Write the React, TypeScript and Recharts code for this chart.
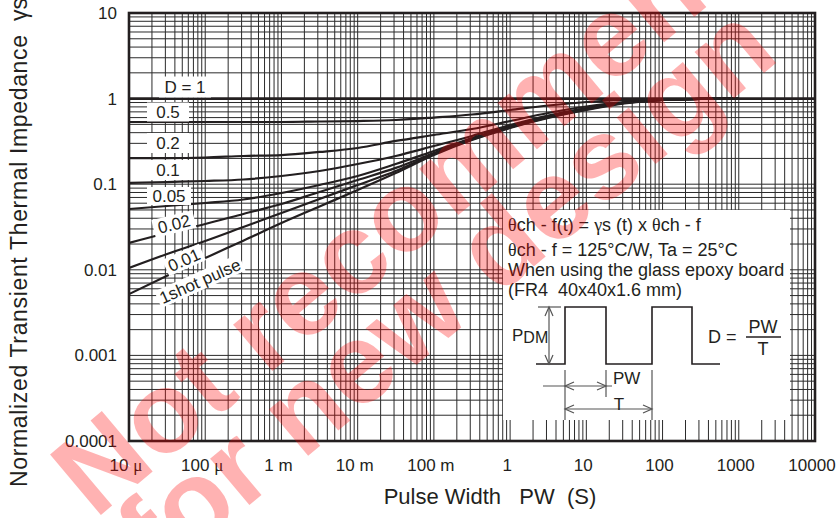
import React from 'react';
import { LineChart, Line, XAxis, YAxis, CartesianGrid } from 'recharts';

// ---------- data ----------
const pulseWidth = [1e-5, 3.16e-5, 1e-4, 3.16e-4, 1e-3, 3.16e-3, 1e-2, 3.16e-2, 0.1, 0.316, 1, 3.16, 10, 31.6, 100, 316, 1000];
const zD05 = [0.533, 0.533, 0.533, 0.533, 0.533, 0.54, 0.547, 0.562, 0.601, 0.652, 0.736, 0.831, 0.913, 0.963, 0.976, 0.99, 1.0];
const zD02 = [0.202, 0.202, 0.205, 0.2135, 0.219, 0.238, 0.265, 0.32, 0.376, 0.441, 0.547, 0.679, 0.809, 0.913, 0.963, 0.99, 1.0];
const zD01 = [0.1033, 0.106, 0.109, 0.1135, 0.1247, 0.1426, 0.172, 0.2135, 0.279, 0.366, 0.491, 0.635, 0.777, 0.9, 0.963, 0.99, 1.0];
const zD005 = [0.0513, 0.0556, 0.0603, 0.0663, 0.0789, 0.0979, 0.1247, 0.172, 0.244, 0.347, 0.472, 0.618, 0.766, 0.9, 0.963, 0.99, 1.0];
const zD002 = [0.0206, 0.0269, 0.0343, 0.0449, 0.0587, 0.0811, 0.112, 0.155, 0.231, 0.337, 0.466, 0.61, 0.756, 0.888, 0.963, 0.99, 1.0];
const zD001 = [0.0105, 0.0153, 0.0217, 0.0316, 0.0461, 0.0672, 0.0979, 0.1426, 0.225, 0.333, 0.46, 0.601, 0.746, 0.888, 0.963, 0.99, 1.0];
const zSingle = [0.0052, 0.0085, 0.0137, 0.0219, 0.0352, 0.0549, 0.0855, 0.135, 0.219, 0.328, 0.453, 0.593, 0.736, 0.877, 0.963, 0.99, 1.0];
const dOnePw = [1e-5, 1e4];
const dOneZ = [1, 1];

const xDecades = [1e-5, 1e-4, 1e-3, 1e-2, 1e-1, 1, 10, 100, 1000, 10000];
const xTickLabels = ['10 μ', '100 μ', '1 m', '10 m', '100 m', '1', '10', '100', '1000', '10000'];
const yDecades = [1e-4, 1e-3, 1e-2, 1e-1, 1, 10];
const yTickLabels = ['0.0001', '0.001', '0.01', '0.1', '1', '10'];

const seriesKeys = ['d05', 'd02', 'd01', 'd005', 'd002', 'd001', 'single'];
const seriesValues = [zD05, zD02, zD01, zD005, zD002, zD001, zSingle];

// ---------- derived tables ----------
const rows = pulseWidth.map((pw, i) => {
  const r: any = { pw };
  seriesKeys.forEach((k, j) => (r[k] = seriesValues[j][i]));
  return r;
});
const dOneRows = dOnePw.map((pw, i) => ({ pw, z: dOneZ[i] }));

function logGrid(decades: number[]) {
  const out: number[] = [];
  for (let i = 0; i < decades.length - 1; i++) {
    for (let m = 1; m <= 9; m++) out.push(Number((m * decades[i]).toPrecision(6)));
  }
  out.push(decades[decades.length - 1]);
  return out;
}
const xGridTicks = logGrid(xDecades);
const yGridTicks = logGrid(yDecades);

const decadeIndex = (v: number, decades: number[]) =>
  decades.findIndex((d) => Math.abs(Math.log10(d) - Math.log10(v)) < 1e-6);

// ---------- styles ----------
const W = 837;
const H = 518;
const INK = '#231f20';
const SANS = '"Liberation Sans", Arial, Helvetica, sans-serif';
const SERIF = '"Liberation Serif", "Times New Roman", serif';
const M = { top: 13, right: 22, bottom: 47, left: 69 };
const YW = 60;
const XH = 30;
const PL = M.left + YW;
const PT = M.top;
const PR = W - M.right;
const PB = H - M.bottom - XH;

const XTick = (props: any) => {
  const { x, payload } = props;
  const idx = decadeIndex(payload.value, xDecades);
  if (idx < 0) return <g />;
  const lab = xTickLabels[idx];
  const parts = lab.split('μ');
  return (
    <text x={x - 3} y={PB + 30} textAnchor="middle" fontSize={17} fill={INK} fontFamily={SANS}>
      {parts[0]}
      {parts.length > 1 ? <tspan fontFamily={SERIF}>μ</tspan> : null}
    </text>
  );
};

const YTick = (props: any) => {
  const { y, payload } = props;
  const idx = decadeIndex(payload.value, yDecades);
  if (idx < 0) return <g />;
  return (
    <text x={PL - 12} y={y + 6} textAnchor="end" fontSize={17} fill={INK} fontFamily={SANS}>
      {yTickLabels[idx]}
    </text>
  );
};

const Tag = ({ cx, cy, w, h, angle = 0, children }: any) => (
  <g transform={`translate(${cx},${cy}) rotate(${angle})`}>
    <rect x={-w / 2} y={-h / 2} width={w} height={h} fill="#fff" />
    <text x={0} y={6} textAnchor="middle" fontSize={17} fill={INK} fontFamily={SANS}>
      {children}
    </text>
  </g>
);

const Arrow = ({ x, y, dir }: any) => {
  const s = 9;
  const a = 4;
  let pts = '';
  if (dir === 'left') pts = `${x + s},${y - a} ${x},${y} ${x + s},${y + a}`;
  if (dir === 'right') pts = `${x - s},${y - a} ${x},${y} ${x - s},${y + a}`;
  if (dir === 'up') pts = `${x - a},${y + s} ${x},${y} ${x + a},${y + s}`;
  if (dir === 'down') pts = `${x - a},${y - s} ${x},${y} ${x + a},${y - s}`;
  return <polyline points={pts} fill="none" stroke="#555" strokeWidth={1.2} />;
};

export default function App() {
  return (
    <div style={{ position: 'absolute', left: 0, top: 0, width: W, height: H, background: '#fff' }}>
      <LineChart width={W} height={H} data={rows} margin={M}>
        <CartesianGrid stroke="#2b2b2b" strokeWidth={1} />
        <XAxis
          dataKey="pw"
          type="number"
          scale="log"
          domain={[1e-5, 1e4]}
          ticks={xGridTicks}
          interval={0}
          allowDataOverflow
          tick={<XTick />}
          tickLine={false}
          axisLine={false}
          height={XH}
        />
        <YAxis
          type="number"
          scale="log"
          domain={[1e-4, 10]}
          ticks={yGridTicks}
          interval={0}
          allowDataOverflow
          tick={<YTick />}
          tickLine={false}
          axisLine={false}
          width={YW}
        />
        {seriesKeys.map((k) => (
          <Line key={k} dataKey={k} type="monotone" stroke={INK} strokeWidth={2.2} dot={false} isAnimationActive={false} />
        ))}
        <Line data={dOneRows} dataKey="z" type="linear" stroke={INK} strokeWidth={2.6} dot={false} isAnimationActive={false} />
      </LineChart>

      <svg width={W} height={H} style={{ position: 'absolute', left: 0, top: 0, pointerEvents: 'none' }} fontFamily={SANS}>
        {/* inset box */}
        <rect x={503} y={210} width={287} height={210} fill="#fff" />
        <g fill={INK} fontSize={18}>
          <text x={508} y={231}>
            <tspan fontFamily={SERIF}>θ</tspan>ch - f(t) = <tspan fontFamily={SERIF}>γ</tspan>s (t) x <tspan fontFamily={SERIF}>θ</tspan>ch - f
          </text>
          <text x={508} y={256}>
            <tspan fontFamily={SERIF}>θ</tspan>ch - f = 125°C/W, Ta = 25°C
          </text>
          <text x={508} y={276}>When using the glass epoxy board</text>
          <text x={508} y={296} style={{ whiteSpace: 'pre' }}>(FR4  40x40x1.6 mm)</text>
        </g>
        {/* pulse train */}
        <polyline
          points="536,364 565,364 565,307 606,307 606,364 652,364 652,307 692,307 692,364 720,364"
          fill="none"
          stroke={INK}
          strokeWidth={1.6}
        />
        <line x1={538} y1={307} x2={561} y2={307} stroke="#555" strokeWidth={1.2} />
        <line x1={549} y1={307} x2={549} y2={364} stroke="#555" strokeWidth={1.2} />
        <Arrow x={549} y={307} dir="up" />
        <Arrow x={549} y={364} dir="down" />
        <text x={512} y={341} fontSize={17} fill={INK}>
          P<tspan fontSize={16} dy={2}>DM</tspan>
        </text>
        <text x={708} y={343} fontSize={18} fill={INK}>D =</text>
        <text x={763} y={333} fontSize={18} fill={INK} textAnchor="middle">PW</text>
        <line x1={746} y1={337} x2={781} y2={337} stroke={INK} strokeWidth={1.3} />
        <text x={763} y={355} fontSize={18} fill={INK} textAnchor="middle">T</text>
        <line x1={565} y1={370} x2={565} y2={420} stroke="#555" strokeWidth={1.2} />
        <line x1={606} y1={370} x2={606} y2={397} stroke="#555" strokeWidth={1.2} />
        <line x1={652} y1={370} x2={652} y2={420} stroke="#555" strokeWidth={1.2} />
        <line x1={543} y1={386} x2={612} y2={386} stroke="#555" strokeWidth={1.2} />
        <Arrow x={565} y={386} dir="left" />
        <Arrow x={606} y={386} dir="right" />
        <text x={613} y={384} fontSize={17} fill={INK}>PW</text>
        <line x1={565} y1={409} x2={652} y2={409} stroke="#555" strokeWidth={1.2} />
        <Arrow x={565} y={409} dir="left" />
        <Arrow x={652} y={409} dir="right" />
        <text x={619} y={410} fontSize={17} fill={INK} textAnchor="middle">T</text>

        {/* curve labels */}
        <Tag cx={185} cy={87} w={52} h={21}>D = 1</Tag>
        <Tag cx={168} cy={112} w={42} h={19}>0.5</Tag>
        <Tag cx={168} cy={143} w={42} h={20}>0.2</Tag>
        <Tag cx={168} cy={170} w={42} h={20}>0.1</Tag>
        <Tag cx={169} cy={196} w={44} h={18}>0.05</Tag>
        <Tag cx={174} cy={224} w={42} h={18} angle={-14}>0.02</Tag>
        <Tag cx={184} cy={260} w={40} h={18} angle={-24}>0.01</Tag>
        <Tag cx={200} cy={281} w={92} h={18} angle={-24}>1shot pulse</Tag>

        {/* frame */}
        <rect x={PL} y={PT} width={PR - PL} height={PB - PT} fill="none" stroke={INK} strokeWidth={2.6} />

        {/* axis titles */}
        <text transform="translate(27,487) rotate(-90)" fontSize={23} fill={INK} textLength={452} lengthAdjust="spacing">
          Normalized Transient Thermal Impedance
        </text>
        <text transform="translate(27,-2) rotate(-90)" fontSize={23} fill={INK} textAnchor="end">
          γs
        </text>
        <text x={490} y={504} fontSize={22} fill={INK} textAnchor="middle" style={{ whiteSpace: 'pre' }}>
          Pulse Width   PW  (S)
        </text>

        {/* watermark */}
        <g fill="#ff0000" fillOpacity={0.3} fontWeight="bold" fontSize={115} fontFamily={SANS}>
          <text transform="translate(95,520) rotate(-40)">Not recommended</text>
          <text transform="translate(160,580) rotate(-40)">for new design</text>
        </g>
      </svg>
    </div>
  );
}
